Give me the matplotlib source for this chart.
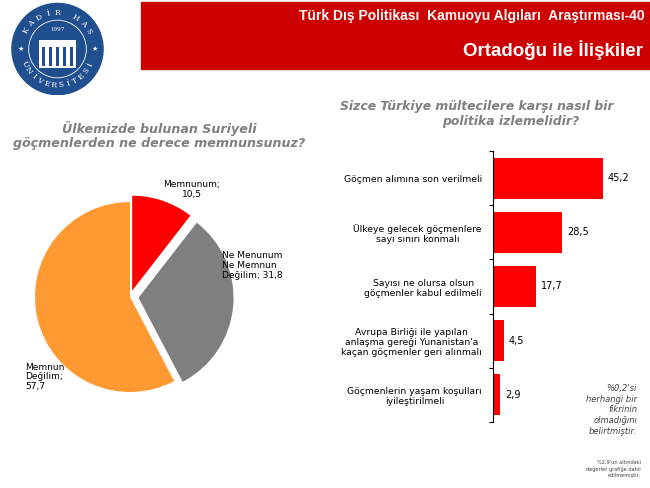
import numpy as np
import matplotlib
matplotlib.use("Agg")
import matplotlib.pyplot as plt
from matplotlib.patches import Rectangle, Circle

# --- data ---
pie_labels = ["Memnunum;\n10,5", "Ne Menunum\nNe Memnun\nDeğilim; 31,8", "Memnun\nDeğilim;\n57,7"]
pie_values = [10.5, 31.8, 57.7]
pie_colors = ["#ff0000", "#7f7f7f", "#ff9a33"]

bar_labels = [
    "Göçmen alımına son verilmeli",
    "Ülkeye gelecek göçmenlere\nsayı sınırı konmalı",
    "Sayısı ne olursa olsun\ngöçmenler kabul edilmeli",
    "Avrupa Birliği ile yapılan\nanlaşma gereği Yunanistan'a\nkaçan göçmenler geri alınmalı",
    "Göçmenlerin yaşam koşulları\niyileştirilmeli",
]
bar_values = [45.2, 28.5, 17.7, 4.5, 2.9]

W, H = 650, 488
fig = plt.figure(figsize=(6.5, 4.88), dpi=100)

def fx(x):
    return x / W

def fy(y):
    return 1 - y / H

# header band
fig.patches.append(Rectangle((fx(141), fy(69)), fx(650) - fx(141), fy(2) - fy(69),
                             transform=fig.transFigure, color="#cc0000", zorder=0))
fig.text(fx(645), fy(16), "Türk Dış Politikası  Kamuoyu Algıları  Araştırması-40",
         color="white", fontsize=10, fontweight="bold", family="Liberation Sans",
         ha="right", va="center")
fig.text(fx(643), fy(50), "Ortadoğu ile İlişkiler", color="white", fontsize=13.5,
         fontweight="bold", family="Liberation Sans", ha="right", va="center")

# logo (simplified)
lax = fig.add_axes([fx(11), fy(96), fx(104) - fx(11), fy(2) - fy(96)])
lax.set_xlim(-1, 1)
lax.set_ylim(-1, 1)
lax.set_aspect("equal")
lax.axis("off")
lax.add_patch(Circle((0, 0), 0.98, color="#1f4f8f"))
lax.add_patch(Circle((0, 0), 0.62, fill=False, ec="white", lw=0.6))
for txt, a0, a1, r in [("KADİR HAS", 150, 30, 0.78), ("ÜNİVERSİTESİ", 205, 335, 0.78)]:
    angs = np.linspace(a0, a1, len(txt))
    for ch, a in zip(txt, angs):
        rot = a - 90 if a < 180 else a + 90
        lax.text(r * np.cos(np.radians(a)), r * np.sin(np.radians(a)), ch, color="white",
                 fontsize=5.5, family="DejaVu Serif", ha="center", va="center", rotation=rot)
lax.text(0, 0.42, "1997", color="white", fontsize=4, family="DejaVu Serif", ha="center", va="center")
lax.add_patch(Rectangle((-0.4, -0.4), 0.8, 0.6, fc="white", ec="none"))
for i in range(5):
    lax.add_patch(Rectangle((-0.34 + i * 0.15, -0.36), 0.08, 0.4, fc="#1f4f8f", ec="none"))
lax.text(-0.8, 0, "★", color="white", fontsize=5, ha="center", va="center")
lax.text(0.8, 0, "★", color="white", fontsize=5, ha="center", va="center")

# --- pie ---
title_col = "#7f7f7f"
fig.text(fx(159), fy(128), "Ülkemizde bulunan Suriyeli", color=title_col, fontsize=9.1,
         fontweight="bold", style="italic", ha="center", va="center")
fig.text(fx(159), fy(143), "göçmenlerden ne derece memnunsunuz?", color=title_col, fontsize=9.1,
         fontweight="bold", style="italic", ha="center", va="center")

r_px = 95
cx, cy = 130, 297
span = 1.5
pax = fig.add_axes([fx(cx - span * r_px), fy(cy + span * r_px),
                    2 * span * r_px / W, 2 * span * r_px / H])
pax.pie(pie_values, colors=pie_colors, startangle=90, counterclock=False,
        explode=[0.07, 0.09, 0.0], wedgeprops=dict(linewidth=0))
pax.set_xlim(-span, span)
pax.set_ylim(-span, span)
pax.axis("off")
lab_fs = 6.5
pax.text(0.65, 1.13, pie_labels[0], fontsize=lab_fs, ha="center", va="center", linespacing=1.1)
pax.text(0.97, 0.33, pie_labels[1], fontsize=lab_fs, ha="left", va="center", linespacing=1.1)
pax.text(-1.1, -0.84, pie_labels[2], fontsize=lab_fs, ha="left", va="center", linespacing=1.1)

# --- bars ---
fig.text(fx(340), fy(107), "Sizce Türkiye mültecilere karşı nasıl bir", color=title_col,
         fontsize=8.9, fontweight="bold", style="italic", ha="left", va="center")
fig.text(fx(511), fy(122), "politika izlemelidir?", color=title_col,
         fontsize=8.9, fontweight="bold", style="italic", ha="center", va="center")

x0, x1, y0, y1 = 493, 633, 151, 422
bax = fig.add_axes([fx(x0), fy(y1), (x1 - x0) / W, (y1 - y0) / H])
pos = np.arange(len(bar_values))
bax.barh(pos, bar_values, height=0.76, color="#ff0000")
bax.set_xlim(0, (x1 - x0) / 2.43)
bax.set_ylim(len(bar_values) - 0.5, -0.5)
for s in ["top", "right", "bottom"]:
    bax.spines[s].set_visible(False)
bax.spines["left"].set_linewidth(0.8)
bax.set_xticks([])
bax.set_yticks(pos)
bax.set_yticklabels(bar_labels, fontsize=6.7)
for lbl in bax.get_yticklabels():
    lbl.set_multialignment("center")
bax.tick_params(axis="y", which="major", length=0, pad=8)
bax.set_yticks(np.arange(len(bar_values) + 1) - 0.5, minor=True)
bax.tick_params(axis="y", which="minor", length=3, width=0.8)
for p, v in zip(pos, bar_values):
    bax.text(v + 2, p, f"{v:.1f}".replace(".", ","), fontsize=7, ha="left", va="center")

fig.text(fx(637), fy(410), "%0,2'si\nherhangi bir\nfikrinin\nolmadığını\nbelirtmiştir.",
         fontsize=6, style="italic", color="#404040", ha="right", va="center", linespacing=1.25)
fig.text(fx(641), fy(469), "%2,9'un altındaki\ndeğerler grafiğe dahil\nedilmemiştir.",
         fontsize=3.6, color="#404040", ha="right", va="center", linespacing=1.3)

fig.savefig("out.png", dpi=100)
